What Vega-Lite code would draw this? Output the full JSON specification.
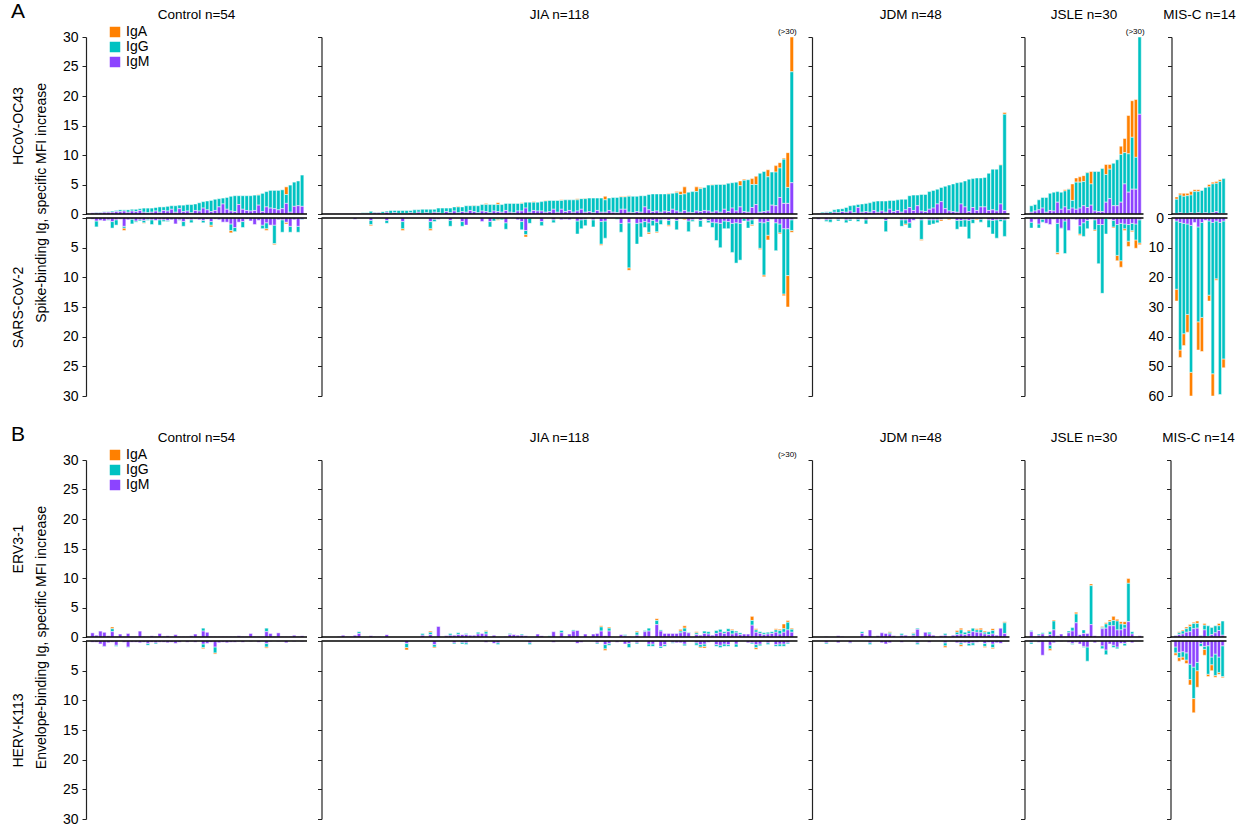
{
"$schema": "https://vega.github.io/schema/vega-lite/v6.json",
"background": "white",
"padding": {"left": 11, "top": 0, "right": 5, "bottom": 5},
"config": {
 "font": "Liberation Sans",
 "view": {"stroke": null},
 "range": {"category": ["#FF8000", "#00C2C2", "#8C44FF", "#FF8000", "#00C2C2", "#8C44FF"]},
 "axis": {"domainColor": "#222222", "tickColor": "#222222", "labelColor": "black", "labelFontSize": 14, "titleFontSize": 14, "titleFontWeight": "normal", "titleColor": "black", "tickSize": 4, "labelPadding": 4, "grid": false, "domainWidth": 1.2},
 "title": {"fontSize": 13.5, "fontWeight": "normal", "color": "black"}
},
"datasets": {
"pA": [
{"g":"C","i":1,"M":0.2,"G":0,"A":0,"c":0.2,"b":0,"a":0},
{"g":"C","i":2,"M":0.2,"G":0.1,"A":0,"c":0.5,"b":1.0,"a":0},
{"g":"C","i":3,"M":0.2,"G":0.1,"A":0,"c":0.4,"b":0,"a":0},
{"g":"C","i":4,"M":0.3,"G":0.1,"A":0,"c":0.5,"b":0,"a":0},
{"g":"C","i":5,"M":0.3,"G":0.1,"A":0,"c":0.3,"b":0.1,"a":0},
{"g":"C","i":6,"M":0.3,"G":0.2,"A":0,"c":0.6,"b":1.1,"a":0},
{"g":"C","i":7,"M":0.4,"G":0.2,"A":0,"c":0.3,"b":0.9,"a":0},
{"g":"C","i":8,"M":0.4,"G":0.3,"A":0,"c":0.2,"b":0,"a":0},
{"g":"C","i":9,"M":0.5,"G":0.2,"A":0,"c":1.4,"b":0.3,"a":0.4},
{"g":"C","i":10,"M":0.3,"G":0.4,"A":0,"c":0.3,"b":0,"a":0},
{"g":"C","i":11,"M":0.5,"G":0.3,"A":0,"c":0.2,"b":0.8,"a":0},
{"g":"C","i":12,"M":0.4,"G":0.4,"A":0,"c":0.5,"b":0.2,"a":0},
{"g":"C","i":13,"M":0.6,"G":0.3,"A":0,"c":0.3,"b":0.2,"a":0},
{"g":"C","i":14,"M":0.3,"G":0.7,"A":0,"c":0.4,"b":0.4,"a":0.1},
{"g":"C","i":15,"M":0.2,"G":0.8,"A":0,"c":0.2,"b":0.2,"a":0},
{"g":"C","i":16,"M":0.3,"G":0.7,"A":0,"c":0.3,"b":0.8,"a":0},
{"g":"C","i":17,"M":0.5,"G":0.6,"A":0,"c":0.4,"b":0,"a":0},
{"g":"C","i":18,"M":0.3,"G":0.9,"A":0,"c":0.3,"b":0.9,"a":0},
{"g":"C","i":19,"M":0.6,"G":0.6,"A":0,"c":0.3,"b":0.3,"a":0},
{"g":"C","i":20,"M":0.5,"G":0.8,"A":0,"c":0.4,"b":0.2,"a":0},
{"g":"C","i":21,"M":0.8,"G":0.6,"A":0,"c":0.3,"b":0,"a":0},
{"g":"C","i":22,"M":0.3,"G":1.1,"A":0,"c":1.0,"b":0,"a":0},
{"g":"C","i":23,"M":0.9,"G":0.6,"A":0,"c":0.3,"b":0.1,"a":0},
{"g":"C","i":24,"M":0.4,"G":1.1,"A":0,"c":0.6,"b":0.8,"a":0},
{"g":"C","i":25,"M":0.5,"G":1.1,"A":0,"c":0.2,"b":0,"a":0},
{"g":"C","i":26,"M":0.2,"G":1.4,"A":0,"c":0.3,"b":0.5,"a":0},
{"g":"C","i":27,"M":0.6,"G":1.1,"A":0,"c":0.2,"b":0,"a":0},
{"g":"C","i":28,"M":0.5,"G":1.4,"A":0,"c":0.3,"b":0,"a":0},
{"g":"C","i":29,"M":1.0,"G":1.1,"A":0,"c":0.4,"b":0.4,"a":0},
{"g":"C","i":30,"M":0.7,"G":1.5,"A":0,"c":0.2,"b":0,"a":0},
{"g":"C","i":31,"M":0.4,"G":1.9,"A":0,"c":0.6,"b":0.6,"a":0.3},
{"g":"C","i":32,"M":0.6,"G":1.9,"A":0,"c":0.2,"b":0,"a":0},
{"g":"C","i":33,"M":1.2,"G":1.4,"A":0,"c":0.3,"b":0,"a":0},
{"g":"C","i":34,"M":1.7,"G":1.0,"A":0,"c":0.7,"b":0,"a":0},
{"g":"C","i":35,"M":0.8,"G":2.0,"A":0,"c":0.7,"b":0,"a":0},
{"g":"C","i":36,"M":0.5,"G":2.5,"A":0,"c":1.0,"b":1.1,"a":0.4},
{"g":"C","i":37,"M":0.4,"G":2.7,"A":0,"c":1.6,"b":0.7,"a":0},
{"g":"C","i":38,"M":1.6,"G":1.5,"A":0,"c":0.7,"b":0,"a":0},
{"g":"C","i":39,"M":0.8,"G":2.3,"A":0,"c":0.6,"b":1.0,"a":0},
{"g":"C","i":40,"M":0.6,"G":2.5,"A":0,"c":0.2,"b":0,"a":0},
{"g":"C","i":41,"M":0.5,"G":2.6,"A":0,"c":0.5,"b":0,"a":0},
{"g":"C","i":42,"M":0.6,"G":2.6,"A":0,"c":1.1,"b":0,"a":0},
{"g":"C","i":43,"M":1.5,"G":1.7,"A":0.1,"c":0.4,"b":0,"a":0},
{"g":"C","i":44,"M":0.4,"G":3.1,"A":0,"c":1.2,"b":0.6,"a":0},
{"g":"C","i":45,"M":1.2,"G":2.6,"A":0,"c":0.8,"b":1.0,"a":0.3},
{"g":"C","i":46,"M":1.0,"G":3.0,"A":0,"c":1.2,"b":0,"a":0},
{"g":"C","i":47,"M":0.9,"G":3.1,"A":0,"c":1.2,"b":3.1,"a":0.2},
{"g":"C","i":48,"M":0.7,"G":3.3,"A":0,"c":0.3,"b":0,"a":0},
{"g":"C","i":49,"M":0.9,"G":3.2,"A":0,"c":0.3,"b":2.1,"a":0},
{"g":"C","i":50,"M":1.8,"G":1.5,"A":1.3,"c":0.7,"b":0,"a":0.3},
{"g":"C","i":51,"M":0.3,"G":4.6,"A":0,"c":1.4,"b":1.0,"a":0},
{"g":"C","i":52,"M":1.3,"G":4.1,"A":0,"c":0.3,"b":0,"a":0},
{"g":"C","i":53,"M":1.4,"G":4.2,"A":0,"c":1.4,"b":1.0,"a":0},
{"g":"C","i":54,"M":1.3,"G":5.3,"A":0,"c":0.2,"b":0.1,"a":0},
{"g":"JIA","i":1,"M":0.05,"G":0,"A":0,"c":0,"b":0,"a":0},
{"g":"JIA","i":2,"M":0.05,"G":0,"A":0,"c":0,"b":0,"a":0},
{"g":"JIA","i":3,"M":0.05,"G":0,"A":0,"c":0,"b":0,"a":0},
{"g":"JIA","i":4,"M":0.05,"G":0,"A":0,"c":0,"b":0,"a":0},
{"g":"JIA","i":5,"M":0.05,"G":0,"A":0,"c":0,"b":0,"a":0},
{"g":"JIA","i":6,"M":0.05,"G":0.05,"A":0,"c":0,"b":0,"a":0},
{"g":"JIA","i":7,"M":0.1,"G":0,"A":0,"c":0,"b":0,"a":0},
{"g":"JIA","i":8,"M":0.1,"G":0.05,"A":0,"c":0.2,"b":0,"a":0},
{"g":"JIA","i":9,"M":0.1,"G":0.05,"A":0,"c":0,"b":0,"a":0},
{"g":"JIA","i":10,"M":0.1,"G":0.1,"A":0,"c":0,"b":0,"a":0},
{"g":"JIA","i":11,"M":0.1,"G":0.1,"A":0,"c":0,"b":0,"a":0},
{"g":"JIA","i":12,"M":0.1,"G":0.35,"A":0,"c":0.4,"b":0.7,"a":0.2},
{"g":"JIA","i":13,"M":0.2,"G":0.1,"A":0,"c":0,"b":0,"a":0},
{"g":"JIA","i":14,"M":0.2,"G":0.1,"A":0,"c":0,"b":0,"a":0},
{"g":"JIA","i":15,"M":0.1,"G":0.3,"A":0,"c":0,"b":0,"a":0},
{"g":"JIA","i":16,"M":0.3,"G":0.2,"A":0,"c":0.4,"b":0.5,"a":0},
{"g":"JIA","i":17,"M":0.1,"G":0.5,"A":0,"c":0,"b":0,"a":0},
{"g":"JIA","i":18,"M":0.2,"G":0.4,"A":0,"c":0,"b":0,"a":0},
{"g":"JIA","i":19,"M":0.1,"G":0.5,"A":0,"c":0,"b":0,"a":0},
{"g":"JIA","i":20,"M":0.1,"G":0.5,"A":0,"c":0.6,"b":1.2,"a":0.3},
{"g":"JIA","i":21,"M":0.1,"G":0.5,"A":0,"c":0,"b":0,"a":0},
{"g":"JIA","i":22,"M":0.2,"G":0.4,"A":0,"c":0,"b":0,"a":0},
{"g":"JIA","i":23,"M":0.1,"G":0.6,"A":0,"c":0,"b":0,"a":0},
{"g":"JIA","i":24,"M":0.3,"G":0.4,"A":0,"c":0,"b":0,"a":0},
{"g":"JIA","i":25,"M":0.1,"G":0.7,"A":0,"c":0,"b":0,"a":0},
{"g":"JIA","i":26,"M":0.2,"G":0.6,"A":0,"c":0,"b":0,"a":0},
{"g":"JIA","i":27,"M":0.1,"G":0.7,"A":0,"c":0.6,"b":1.2,"a":0.3},
{"g":"JIA","i":28,"M":0.3,"G":0.5,"A":0,"c":0.2,"b":0.4,"a":0},
{"g":"JIA","i":29,"M":0.2,"G":0.8,"A":0,"c":0.2,"b":0,"a":0},
{"g":"JIA","i":30,"M":0.1,"G":0.9,"A":0,"c":0,"b":0,"a":0},
{"g":"JIA","i":31,"M":0.4,"G":0.6,"A":0,"c":0,"b":0,"a":0},
{"g":"JIA","i":32,"M":0.2,"G":0.8,"A":0,"c":0.4,"b":1.0,"a":0},
{"g":"JIA","i":33,"M":0.5,"G":0.7,"A":0,"c":0,"b":0,"a":0},
{"g":"JIA","i":34,"M":0.2,"G":1.0,"A":0.1,"c":0,"b":0,"a":0},
{"g":"JIA","i":35,"M":0.4,"G":0.8,"A":0,"c":0.6,"b":0.8,"a":0},
{"g":"JIA","i":36,"M":0.3,"G":1.1,"A":0,"c":1.2,"b":0,"a":0},
{"g":"JIA","i":37,"M":0.6,"G":0.8,"A":0,"c":0,"b":0,"a":0},
{"g":"JIA","i":38,"M":0.4,"G":1.0,"A":0.1,"c":0,"b":0,"a":0},
{"g":"JIA","i":39,"M":0.2,"G":1.2,"A":0,"c":0,"b":0,"a":0},
{"g":"JIA","i":40,"M":0.5,"G":1.1,"A":0,"c":0.6,"b":0,"a":0},
{"g":"JIA","i":41,"M":0.4,"G":1.2,"A":0.2,"c":0,"b":0,"a":0},
{"g":"JIA","i":42,"M":0.2,"G":1.4,"A":0,"c":0.6,"b":0.9,"a":0},
{"g":"JIA","i":43,"M":0.5,"G":1.1,"A":0,"c":0,"b":0.5,"a":0},
{"g":"JIA","i":44,"M":0.4,"G":1.2,"A":0.3,"c":0,"b":0.2,"a":0.2},
{"g":"JIA","i":45,"M":0.3,"G":1.3,"A":0,"c":0,"b":0.3,"a":0},
{"g":"JIA","i":46,"M":0.6,"G":1.2,"A":0,"c":0.8,"b":1.1,"a":0},
{"g":"JIA","i":47,"M":0.3,"G":1.5,"A":0,"c":0,"b":0,"a":0},
{"g":"JIA","i":48,"M":0.2,"G":1.6,"A":0,"c":0,"b":0,"a":0},
{"g":"JIA","i":49,"M":0.5,"G":1.3,"A":0,"c":0.3,"b":0,"a":0},
{"g":"JIA","i":50,"M":0.5,"G":1.3,"A":0.1,"c":0.6,"b":1.4,"a":0},
{"g":"JIA","i":51,"M":1.0,"G":1.0,"A":0,"c":2.1,"b":0.7,"a":0.4},
{"g":"JIA","i":52,"M":0.3,"G":1.7,"A":0,"c":0,"b":0.9,"a":0},
{"g":"JIA","i":53,"M":0.6,"G":1.4,"A":0.1,"c":0,"b":0,"a":0},
{"g":"JIA","i":54,"M":0.5,"G":1.5,"A":0,"c":0,"b":0,"a":0},
{"g":"JIA","i":55,"M":0.5,"G":1.6,"A":0,"c":0.6,"b":0.7,"a":0},
{"g":"JIA","i":56,"M":0.3,"G":1.9,"A":0.1,"c":0,"b":0,"a":0},
{"g":"JIA","i":57,"M":0.4,"G":1.9,"A":0,"c":0,"b":0,"a":0},
{"g":"JIA","i":58,"M":0.8,"G":1.5,"A":0,"c":0.3,"b":0.5,"a":0},
{"g":"JIA","i":59,"M":0.3,"G":2.0,"A":0,"c":0,"b":0,"a":0},
{"g":"JIA","i":60,"M":0.8,"G":1.5,"A":0.1,"c":0.3,"b":0,"a":0},
{"g":"JIA","i":61,"M":0.4,"G":2.0,"A":0,"c":0.2,"b":0,"a":0},
{"g":"JIA","i":62,"M":0.6,"G":1.8,"A":0,"c":0.3,"b":0,"a":0},
{"g":"JIA","i":63,"M":0.3,"G":2.1,"A":0,"c":0,"b":0,"a":0},
{"g":"JIA","i":64,"M":0.5,"G":1.9,"A":0.2,"c":0.5,"b":2.2,"a":0},
{"g":"JIA","i":65,"M":0.8,"G":1.8,"A":0,"c":0.3,"b":1.5,"a":0},
{"g":"JIA","i":66,"M":0.3,"G":2.3,"A":0.1,"c":0.2,"b":1.1,"a":0},
{"g":"JIA","i":67,"M":0.4,"G":2.3,"A":0,"c":0,"b":0,"a":0},
{"g":"JIA","i":68,"M":0.2,"G":2.5,"A":0,"c":0.3,"b":1.2,"a":0},
{"g":"JIA","i":69,"M":0.6,"G":2.1,"A":0,"c":0,"b":0,"a":0},
{"g":"JIA","i":70,"M":0.3,"G":2.4,"A":0,"c":0.6,"b":3.8,"a":0.2},
{"g":"JIA","i":71,"M":0.3,"G":2.1,"A":0.6,"c":0.5,"b":2.9,"a":0},
{"g":"JIA","i":72,"M":0.6,"G":2.1,"A":0,"c":0,"b":0,"a":0},
{"g":"JIA","i":73,"M":0.3,"G":2.5,"A":0,"c":0,"b":0,"a":0},
{"g":"JIA","i":74,"M":0.2,"G":2.6,"A":0,"c":0,"b":0.2,"a":0},
{"g":"JIA","i":75,"M":0.8,"G":2.1,"A":0.1,"c":0.9,"b":1.5,"a":0},
{"g":"JIA","i":76,"M":0.8,"G":2.1,"A":0.1,"c":0,"b":0,"a":0},
{"g":"JIA","i":77,"M":0.3,"G":2.7,"A":0.1,"c":0.8,"b":7.6,"a":0.4},
{"g":"JIA","i":78,"M":0.2,"G":2.8,"A":0,"c":0,"b":0,"a":0},
{"g":"JIA","i":79,"M":0.4,"G":2.6,"A":0,"c":0.9,"b":3.5,"a":0},
{"g":"JIA","i":80,"M":0.3,"G":2.8,"A":0,"c":0.8,"b":2.4,"a":0},
{"g":"JIA","i":81,"M":1.2,"G":1.9,"A":0,"c":0.6,"b":1.0,"a":0},
{"g":"JIA","i":82,"M":0.7,"G":2.6,"A":0,"c":0.8,"b":1.6,"a":0.3},
{"g":"JIA","i":83,"M":0.4,"G":3.0,"A":0,"c":0.4,"b":0.9,"a":0},
{"g":"JIA","i":84,"M":0.5,"G":2.9,"A":0,"c":0.7,"b":1.6,"a":0.2},
{"g":"JIA","i":85,"M":0.3,"G":3.1,"A":0,"c":0.3,"b":0.8,"a":0},
{"g":"JIA","i":86,"M":0.5,"G":2.9,"A":0,"c":0.2,"b":0,"a":0},
{"g":"JIA","i":87,"M":0.4,"G":3.0,"A":0.1,"c":0.4,"b":0.8,"a":0.2},
{"g":"JIA","i":88,"M":0.8,"G":2.7,"A":0,"c":0,"b":0,"a":0},
{"g":"JIA","i":89,"M":0.5,"G":3.1,"A":0.2,"c":0.4,"b":1.6,"a":0},
{"g":"JIA","i":90,"M":0.3,"G":3.0,"A":0.5,"c":0,"b":0,"a":0},
{"g":"JIA","i":91,"M":0.6,"G":2.8,"A":1.2,"c":0,"b":0,"a":0.3},
{"g":"JIA","i":92,"M":0.3,"G":3.4,"A":0,"c":0.5,"b":1.8,"a":0},
{"g":"JIA","i":93,"M":0.2,"G":3.6,"A":0,"c":0.3,"b":0.3,"a":0},
{"g":"JIA","i":94,"M":0.5,"G":3.3,"A":0.8,"c":0,"b":0,"a":0},
{"g":"JIA","i":95,"M":0.4,"G":3.9,"A":0.2,"c":0.4,"b":1.1,"a":0},
{"g":"JIA","i":96,"M":0.6,"G":3.9,"A":0,"c":0,"b":0,"a":0},
{"g":"JIA","i":97,"M":0.5,"G":4.4,"A":0,"c":0.4,"b":0.4,"a":0},
{"g":"JIA","i":98,"M":0.3,"G":4.6,"A":0.1,"c":0.7,"b":0.9,"a":0},
{"g":"JIA","i":99,"M":0.5,"G":4.5,"A":0,"c":0.8,"b":3.0,"a":0},
{"g":"JIA","i":100,"M":0.3,"G":4.7,"A":0,"c":0.9,"b":4.1,"a":0},
{"g":"JIA","i":101,"M":0.8,"G":4.2,"A":0.1,"c":0.5,"b":1.3,"a":0},
{"g":"JIA","i":102,"M":0.4,"G":4.8,"A":0,"c":0.6,"b":1.2,"a":0},
{"g":"JIA","i":103,"M":1.0,"G":4.3,"A":0,"c":0.9,"b":4.9,"a":0},
{"g":"JIA","i":104,"M":0.5,"G":4.9,"A":0,"c":0.8,"b":6.8,"a":0},
{"g":"JIA","i":105,"M":1.2,"G":3.6,"A":0.8,"c":0.9,"b":6.2,"a":0},
{"g":"JIA","i":106,"M":0.4,"G":5.3,"A":0.2,"c":0,"b":0.5,"a":0},
{"g":"JIA","i":107,"M":0.3,"G":5.5,"A":0,"c":0.5,"b":1.2,"a":0},
{"g":"JIA","i":108,"M":1.1,"G":3.9,"A":1.0,"c":0.3,"b":0.8,"a":0.2},
{"g":"JIA","i":109,"M":1.6,"G":3.4,"A":1.4,"c":0,"b":0,"a":0},
{"g":"JIA","i":110,"M":0.3,"G":6.6,"A":0,"c":0.7,"b":4.4,"a":0.2},
{"g":"JIA","i":111,"M":0.4,"G":6.8,"A":0,"c":0.8,"b":8.8,"a":0.3},
{"g":"JIA","i":112,"M":0.5,"G":5.8,"A":1.2,"c":0.6,"b":2.3,"a":0.8},
{"g":"JIA","i":113,"M":1.5,"G":5.6,"A":0,"c":0.2,"b":0,"a":0},
{"g":"JIA","i":114,"M":1.4,"G":5.7,"A":1.1,"c":0.8,"b":4.7,"a":0},
{"g":"JIA","i":115,"M":2.8,"G":5.0,"A":0.9,"c":1.0,"b":1.5,"a":0.2},
{"g":"JIA","i":116,"M":1.8,"G":7.5,"A":0.2,"c":1.8,"b":11.0,"a":0.3},
{"g":"JIA","i":117,"M":1.8,"G":2.7,"A":5.9,"c":1.8,"b":7.9,"a":5.3},
{"g":"JIA","i":118,"M":5.3,"G":18.8,"A":5.9,"c":0.3,"b":1.8,"a":0.3},
{"g":"JDM","i":1,"M":0.1,"G":0,"A":0,"c":0.2,"b":0,"a":0},
{"g":"JDM","i":2,"M":0.1,"G":0.2,"A":0,"c":0,"b":0,"a":0},
{"g":"JDM","i":3,"M":0.2,"G":0.2,"A":0,"c":0.3,"b":0.3,"a":0},
{"g":"JDM","i":4,"M":0.1,"G":0.3,"A":0,"c":0.2,"b":0.5,"a":0},
{"g":"JDM","i":5,"M":0.3,"G":0.4,"A":0,"c":0,"b":0,"a":0},
{"g":"JDM","i":6,"M":0.2,"G":0.65,"A":0,"c":0.2,"b":0.3,"a":0},
{"g":"JDM","i":7,"M":0.4,"G":0.5,"A":0,"c":0,"b":0,"a":0},
{"g":"JDM","i":8,"M":0.3,"G":0.8,"A":0,"c":0.3,"b":0.5,"a":0},
{"g":"JDM","i":9,"M":0.5,"G":0.9,"A":0,"c":0.2,"b":0.3,"a":0},
{"g":"JDM","i":10,"M":0.2,"G":1.3,"A":0,"c":0,"b":0,"a":0},
{"g":"JDM","i":11,"M":1.1,"G":0.5,"A":0,"c":0.2,"b":0.4,"a":0},
{"g":"JDM","i":12,"M":0.3,"G":1.4,"A":0,"c":0,"b":0,"a":0},
{"g":"JDM","i":13,"M":0.4,"G":1.4,"A":0,"c":0.3,"b":0.7,"a":0},
{"g":"JDM","i":14,"M":0.3,"G":1.6,"A":0,"c":0,"b":0,"a":0},
{"g":"JDM","i":15,"M":0.6,"G":1.5,"A":0,"c":0,"b":0,"a":0},
{"g":"JDM","i":16,"M":0.3,"G":1.9,"A":0,"c":0,"b":0,"a":0},
{"g":"JDM","i":17,"M":0.5,"G":1.7,"A":0,"c":0,"b":0,"a":0},
{"g":"JDM","i":18,"M":0.3,"G":1.9,"A":0,"c":0.4,"b":1.9,"a":0},
{"g":"JDM","i":19,"M":0.8,"G":1.5,"A":0,"c":0,"b":0,"a":0},
{"g":"JDM","i":20,"M":0.4,"G":1.9,"A":0,"c":0,"b":0,"a":0},
{"g":"JDM","i":21,"M":0.6,"G":1.8,"A":0,"c":0,"b":0,"a":0},
{"g":"JDM","i":22,"M":0.3,"G":2.2,"A":0,"c":0.3,"b":1.1,"a":0},
{"g":"JDM","i":23,"M":0.7,"G":1.8,"A":0,"c":0.3,"b":0.7,"a":0.2},
{"g":"JDM","i":24,"M":1.1,"G":2.0,"A":0,"c":0.8,"b":0.9,"a":0},
{"g":"JDM","i":25,"M":0.6,"G":2.6,"A":0,"c":0.4,"b":0,"a":0},
{"g":"JDM","i":26,"M":1.4,"G":1.8,"A":0,"c":0,"b":0,"a":0},
{"g":"JDM","i":27,"M":0.5,"G":2.8,"A":0,"c":0.3,"b":3.3,"a":0.2},
{"g":"JDM","i":28,"M":0.4,"G":2.9,"A":0,"c":0,"b":0,"a":0},
{"g":"JDM","i":29,"M":0.8,"G":3.0,"A":0,"c":0.3,"b":0.9,"a":0},
{"g":"JDM","i":30,"M":1.0,"G":3.0,"A":0,"c":0.3,"b":0.7,"a":0},
{"g":"JDM","i":31,"M":1.7,"G":2.5,"A":0,"c":0.3,"b":0.5,"a":0},
{"g":"JDM","i":32,"M":2.1,"G":2.4,"A":0,"c":0.2,"b":0,"a":0.3},
{"g":"JDM","i":33,"M":0.9,"G":3.8,"A":0,"c":0,"b":0,"a":0},
{"g":"JDM","i":34,"M":0.5,"G":4.4,"A":0,"c":0.1,"b":0,"a":0.2},
{"g":"JDM","i":35,"M":0.4,"G":4.7,"A":0,"c":0,"b":0,"a":0},
{"g":"JDM","i":36,"M":0.3,"G":5.0,"A":0,"c":0.4,"b":1.5,"a":0},
{"g":"JDM","i":37,"M":1.7,"G":3.7,"A":0,"c":0.4,"b":1.1,"a":0},
{"g":"JDM","i":38,"M":1.2,"G":4.4,"A":0,"c":0.3,"b":1.2,"a":0},
{"g":"JDM","i":39,"M":0.4,"G":5.5,"A":0,"c":0.4,"b":3.1,"a":0},
{"g":"JDM","i":40,"M":1.1,"G":4.9,"A":0,"c":0.2,"b":0.7,"a":0},
{"g":"JDM","i":41,"M":0.6,"G":5.5,"A":0,"c":0.1,"b":0,"a":0.2},
{"g":"JDM","i":42,"M":1.2,"G":4.9,"A":0,"c":0.2,"b":0.5,"a":0},
{"g":"JDM","i":43,"M":1.2,"G":5.0,"A":0,"c":0,"b":0,"a":0},
{"g":"JDM","i":44,"M":0.6,"G":6.3,"A":0,"c":0.3,"b":1.3,"a":0},
{"g":"JDM","i":45,"M":0.7,"G":6.9,"A":0,"c":0.4,"b":2.3,"a":0},
{"g":"JDM","i":46,"M":0.5,"G":7.1,"A":0,"c":0.3,"b":3.1,"a":0},
{"g":"JDM","i":47,"M":1.7,"G":6.6,"A":0.1,"c":0.2,"b":0.4,"a":0},
{"g":"JDM","i":48,"M":0.6,"G":16.3,"A":0.3,"c":0.3,"b":2.8,"a":0},
{"g":"JSLE","i":1,"M":0.3,"G":1.1,"A":0,"c":0.7,"b":1.0,"a":0},
{"g":"JSLE","i":2,"M":0.5,"G":1.1,"A":0,"c":0.2,"b":0,"a":0},
{"g":"JSLE","i":3,"M":0.7,"G":1.7,"A":0,"c":1.0,"b":0.7,"a":0},
{"g":"JSLE","i":4,"M":1.0,"G":1.8,"A":0,"c":0.2,"b":0.5,"a":0},
{"g":"JSLE","i":5,"M":0.3,"G":2.5,"A":0,"c":0.9,"b":0,"a":0},
{"g":"JSLE","i":6,"M":0.6,"G":2.9,"A":0,"c":1.1,"b":0,"a":0},
{"g":"JSLE","i":7,"M":0.5,"G":3.2,"A":0,"c":0.2,"b":0,"a":0},
{"g":"JSLE","i":8,"M":2.0,"G":1.8,"A":0,"c":0.9,"b":4.9,"a":0.3},
{"g":"JSLE","i":9,"M":0.8,"G":2.9,"A":0,"c":1.7,"b":0.1,"a":0},
{"g":"JSLE","i":10,"M":1.2,"G":2.7,"A":0.2,"c":0.5,"b":5.5,"a":0},
{"g":"JSLE","i":11,"M":0.7,"G":3.5,"A":0.1,"c":2.1,"b":0,"a":0},
{"g":"JSLE","i":12,"M":1.0,"G":1.3,"A":2.8,"c":0.2,"b":0,"a":0},
{"g":"JSLE","i":13,"M":0.8,"G":4.6,"A":0.7,"c":0.3,"b":0,"a":0},
{"g":"JSLE","i":14,"M":1.0,"G":4.4,"A":0.9,"c":1.3,"b":1.4,"a":0.2},
{"g":"JSLE","i":15,"M":1.4,"G":4.1,"A":1.0,"c":0.8,"b":2.3,"a":0},
{"g":"JSLE","i":16,"M":1.1,"G":5.9,"A":0.1,"c":0.4,"b":1.4,"a":0},
{"g":"JSLE","i":17,"M":1.5,"G":3.6,"A":2.1,"c":0.2,"b":0,"a":0},
{"g":"JSLE","i":18,"M":0.5,"G":6.7,"A":0,"c":0.3,"b":1.7,"a":0.2},
{"g":"JSLE","i":19,"M":0.4,"G":6.8,"A":0,"c":1.1,"b":6.6,"a":0},
{"g":"JSLE","i":20,"M":0.4,"G":7.3,"A":0,"c":1.1,"b":11.6,"a":0},
{"g":"JSLE","i":21,"M":2.0,"G":4.7,"A":1.7,"c":0,"b":2.7,"a":0},
{"g":"JSLE","i":22,"M":2.6,"G":5.0,"A":0.8,"c":0.2,"b":0,"a":0},
{"g":"JSLE","i":23,"M":1.4,"G":7.2,"A":0,"c":0.4,"b":1.1,"a":0.2},
{"g":"JSLE","i":24,"M":1.4,"G":7.8,"A":0,"c":1.1,"b":5.2,"a":0.9},
{"g":"JSLE","i":25,"M":2.0,"G":8.1,"A":1.4,"c":0.9,"b":6.3,"a":1.1},
{"g":"JSLE","i":26,"M":5.1,"G":5.3,"A":2.4,"c":1.0,"b":0.8,"a":0.3},
{"g":"JSLE","i":27,"M":3.7,"G":6.5,"A":6.5,"c":1.1,"b":2.8,"a":0.9},
{"g":"JSLE","i":28,"M":4.2,"G":8.8,"A":6.2,"c":0.9,"b":1.2,"a":0.2},
{"g":"JSLE","i":29,"M":4.2,"G":5.4,"A":9.8,"c":1.0,"b":2.7,"a":1.4},
{"g":"JSLE","i":30,"M":16.9,"G":13.1,"A":0,"c":0.3,"b":3.9,"a":0.3},
{"g":"MISC","i":1,"M":0.1,"G":2.4,"A":0.4,"c":1.0,"b":23.0,"a":4.0},
{"g":"MISC","i":2,"M":0.2,"G":3.0,"A":0.3,"c":1.5,"b":43.0,"a":2.5},
{"g":"MISC","i":3,"M":0.1,"G":2.9,"A":0.5,"c":1.8,"b":37.2,"a":4.0},
{"g":"MISC","i":4,"M":0.1,"G":3.0,"A":0.4,"c":2.0,"b":30.5,"a":6.0},
{"g":"MISC","i":5,"M":0.2,"G":3.0,"A":0.6,"c":2.5,"b":49.5,"a":8.0},
{"g":"MISC","i":6,"M":0.1,"G":3.7,"A":0.3,"c":1.5,"b":0,"a":0},
{"g":"MISC","i":7,"M":0.2,"G":3.6,"A":0.3,"c":3.0,"b":32.0,"a":9.5},
{"g":"MISC","i":8,"M":0.1,"G":3.9,"A":0,"c":1.5,"b":32.0,"a":11.5},
{"g":"MISC","i":9,"M":0.2,"G":4.3,"A":0,"c":0.8,"b":0,"a":0},
{"g":"MISC","i":10,"M":0.1,"G":4.5,"A":0.4,"c":1.0,"b":25.0,"a":2.0},
{"g":"MISC","i":11,"M":0.2,"G":4.9,"A":0.3,"c":1.5,"b":51.0,"a":7.5},
{"g":"MISC","i":12,"M":0.4,"G":4.8,"A":0.3,"c":1.0,"b":19.5,"a":0.5},
{"g":"MISC","i":13,"M":0.1,"G":5.4,"A":0.3,"c":1.5,"b":58.0,"a":0},
{"g":"MISC","i":14,"M":0.1,"G":5.9,"A":0,"c":1.0,"b":46.5,"a":3.0}
],
"pB": [
{"g":"C","i":1,"M":0.7,"G":0,"A":0,"c":0.2,"b":0,"a":0},
{"g":"C","i":2,"M":0.3,"G":0,"A":0,"c":0.2,"b":0,"a":0},
{"g":"C","i":3,"M":1.0,"G":0,"A":0,"c":0.5,"b":0,"a":0},
{"g":"C","i":4,"M":0.8,"G":0,"A":0,"c":0.9,"b":0.1,"a":0},
{"g":"C","i":5,"M":0.2,"G":0,"A":0,"c":0.3,"b":0,"a":0},
{"g":"C","i":6,"M":0.9,"G":0.5,"A":0.3,"c":0.2,"b":0,"a":0},
{"g":"C","i":7,"M":0.1,"G":0,"A":0,"c":0.7,"b":0.2,"a":0},
{"g":"C","i":8,"M":0.5,"G":0,"A":0,"c":0,"b":0,"a":0},
{"g":"C","i":9,"M":0.1,"G":0,"A":0,"c":0.2,"b":0,"a":0},
{"g":"C","i":10,"M":0.6,"G":0,"A":0,"c":1.0,"b":0.1,"a":0},
{"g":"C","i":11,"M":0.1,"G":0,"A":0,"c":0.2,"b":0,"a":0},
{"g":"C","i":12,"M":0.1,"G":0,"A":0,"c":0.2,"b":0,"a":0},
{"g":"C","i":13,"M":1.0,"G":0,"A":0,"c":0.3,"b":0,"a":0},
{"g":"C","i":14,"M":0.1,"G":0,"A":0,"c":0.2,"b":0,"a":0},
{"g":"C","i":15,"M":0.1,"G":0,"A":0,"c":0.4,"b":0.3,"a":0},
{"g":"C","i":16,"M":0.2,"G":0,"A":0,"c":0.2,"b":0,"a":0},
{"g":"C","i":17,"M":0.1,"G":0,"A":0,"c":0.3,"b":0.2,"a":0},
{"g":"C","i":18,"M":0.6,"G":0,"A":0,"c":0.2,"b":0,"a":0},
{"g":"C","i":19,"M":0.1,"G":0,"A":0,"c":0.2,"b":0,"a":0},
{"g":"C","i":20,"M":0.2,"G":0,"A":0,"c":0.3,"b":0,"a":0},
{"g":"C","i":21,"M":0.1,"G":0,"A":0,"c":0.2,"b":0,"a":0},
{"g":"C","i":22,"M":0.4,"G":0,"A":0,"c":0.4,"b":0,"a":0},
{"g":"C","i":23,"M":0.1,"G":0,"A":0,"c":0.2,"b":0,"a":0},
{"g":"C","i":24,"M":0.1,"G":0,"A":0,"c":0,"b":0,"a":0},
{"g":"C","i":25,"M":0.1,"G":0,"A":0,"c":0.2,"b":0,"a":0},
{"g":"C","i":26,"M":0.2,"G":0,"A":0,"c":0.1,"b":0,"a":0},
{"g":"C","i":27,"M":0.5,"G":0,"A":0,"c":0.2,"b":0,"a":0},
{"g":"C","i":28,"M":0.1,"G":0,"A":0,"c":0,"b":0,"a":0},
{"g":"C","i":29,"M":1.0,"G":0.5,"A":0,"c":0.5,"b":0.6,"a":0.2},
{"g":"C","i":30,"M":0.8,"G":0,"A":0,"c":0.4,"b":0,"a":0},
{"g":"C","i":31,"M":0.1,"G":0,"A":0,"c":0.2,"b":0,"a":0},
{"g":"C","i":32,"M":0.1,"G":0,"A":0,"c":1.0,"b":1.0,"a":0.2},
{"g":"C","i":33,"M":0.1,"G":0,"A":0,"c":0.3,"b":0,"a":0},
{"g":"C","i":34,"M":0.1,"G":0,"A":0,"c":0.2,"b":0,"a":0},
{"g":"C","i":35,"M":0.1,"G":0,"A":0,"c":0.3,"b":0,"a":0},
{"g":"C","i":36,"M":0.1,"G":0,"A":0,"c":0.2,"b":0,"a":0},
{"g":"C","i":37,"M":0.1,"G":0,"A":0,"c":0.2,"b":0,"a":0},
{"g":"C","i":38,"M":0.2,"G":0,"A":0,"c":0.1,"b":0,"a":0},
{"g":"C","i":39,"M":0.1,"G":0,"A":0,"c":0.2,"b":0,"a":0},
{"g":"C","i":40,"M":0.1,"G":0,"A":0,"c":0,"b":0,"a":0},
{"g":"C","i":41,"M":0.6,"G":0,"A":0,"c":0.1,"b":0,"a":0},
{"g":"C","i":42,"M":0.1,"G":0,"A":0,"c":0,"b":0,"a":0},
{"g":"C","i":43,"M":0.1,"G":0,"A":0,"c":0.2,"b":0,"a":0},
{"g":"C","i":44,"M":0.1,"G":0,"A":0,"c":0,"b":0,"a":0},
{"g":"C","i":45,"M":0.9,"G":0.6,"A":0,"c":0.4,"b":0.6,"a":0.2},
{"g":"C","i":46,"M":0.6,"G":0,"A":0,"c":0.1,"b":0,"a":0},
{"g":"C","i":47,"M":0.1,"G":0,"A":0,"c":0,"b":0,"a":0},
{"g":"C","i":48,"M":0.7,"G":0,"A":0,"c":0.1,"b":0,"a":0},
{"g":"C","i":49,"M":0.1,"G":0,"A":0,"c":0,"b":0,"a":0},
{"g":"C","i":50,"M":0.1,"G":0,"A":0,"c":0.3,"b":0,"a":0},
{"g":"C","i":51,"M":0.1,"G":0,"A":0,"c":0,"b":0,"a":0},
{"g":"C","i":52,"M":0.3,"G":0,"A":0,"c":0.1,"b":0,"a":0},
{"g":"C","i":53,"M":0.1,"G":0,"A":0,"c":0,"b":0,"a":0},
{"g":"C","i":54,"M":0.2,"G":0,"A":0,"c":0.1,"b":0,"a":0},
{"g":"JIA","i":1,"M":0,"G":0,"A":0,"c":0,"b":0,"a":0},
{"g":"JIA","i":2,"M":0,"G":0,"A":0,"c":0,"b":0,"a":0},
{"g":"JIA","i":3,"M":0,"G":0,"A":0,"c":0,"b":0,"a":0},
{"g":"JIA","i":4,"M":0.1,"G":0,"A":0,"c":0,"b":0,"a":0},
{"g":"JIA","i":5,"M":0.3,"G":0,"A":0,"c":0,"b":0,"a":0},
{"g":"JIA","i":6,"M":0.1,"G":0,"A":0,"c":0,"b":0,"a":0},
{"g":"JIA","i":7,"M":0.1,"G":0,"A":0,"c":0,"b":0,"a":0},
{"g":"JIA","i":8,"M":0.3,"G":0,"A":0,"c":0,"b":0,"a":0},
{"g":"JIA","i":9,"M":0.6,"G":0.3,"A":0,"c":0,"b":0,"a":0},
{"g":"JIA","i":10,"M":0,"G":0,"A":0,"c":0,"b":0,"a":0},
{"g":"JIA","i":11,"M":0,"G":0,"A":0,"c":0,"b":0,"a":0},
{"g":"JIA","i":12,"M":0.2,"G":0,"A":0,"c":0,"b":0,"a":0},
{"g":"JIA","i":13,"M":0.1,"G":0,"A":0,"c":0,"b":0,"a":0},
{"g":"JIA","i":14,"M":0.1,"G":0,"A":0,"c":0,"b":0,"a":0},
{"g":"JIA","i":15,"M":0,"G":0,"A":0,"c":0,"b":0,"a":0},
{"g":"JIA","i":16,"M":0.4,"G":0,"A":0,"c":0,"b":0,"a":0},
{"g":"JIA","i":17,"M":0,"G":0,"A":0,"c":0,"b":0,"a":0},
{"g":"JIA","i":18,"M":0,"G":0,"A":0,"c":0,"b":0,"a":0},
{"g":"JIA","i":19,"M":0,"G":0,"A":0,"c":0,"b":0,"a":0},
{"g":"JIA","i":20,"M":0,"G":0,"A":0,"c":0,"b":0,"a":0},
{"g":"JIA","i":21,"M":0,"G":0,"A":0,"c":0.4,"b":0.7,"a":0.4},
{"g":"JIA","i":22,"M":0,"G":0,"A":0,"c":0,"b":0,"a":0},
{"g":"JIA","i":23,"M":0,"G":0,"A":0,"c":0,"b":0,"a":0},
{"g":"JIA","i":24,"M":0,"G":0,"A":0,"c":0,"b":0,"a":0},
{"g":"JIA","i":25,"M":0.3,"G":0.3,"A":0,"c":0,"b":0,"a":0},
{"g":"JIA","i":26,"M":0,"G":0,"A":0,"c":0,"b":0,"a":0},
{"g":"JIA","i":27,"M":0.4,"G":0.4,"A":0.2,"c":0,"b":0,"a":0},
{"g":"JIA","i":28,"M":0,"G":0,"A":0,"c":0.6,"b":0.4,"a":0.2},
{"g":"JIA","i":29,"M":1.8,"G":0,"A":0,"c":0,"b":0,"a":0},
{"g":"JIA","i":30,"M":0,"G":0,"A":0,"c":0,"b":0,"a":0},
{"g":"JIA","i":31,"M":0.2,"G":0,"A":0,"c":0,"b":0,"a":0},
{"g":"JIA","i":32,"M":0.3,"G":0.3,"A":0,"c":0,"b":0,"a":0},
{"g":"JIA","i":33,"M":0.3,"G":0,"A":0,"c":0.3,"b":0.2,"a":0},
{"g":"JIA","i":34,"M":0.4,"G":0.3,"A":0,"c":0,"b":0,"a":0},
{"g":"JIA","i":35,"M":0.4,"G":0,"A":0,"c":0.2,"b":0.3,"a":0},
{"g":"JIA","i":36,"M":0.4,"G":0.2,"A":0,"c":0.3,"b":0.3,"a":0},
{"g":"JIA","i":37,"M":0.3,"G":0,"A":0,"c":0,"b":0,"a":0},
{"g":"JIA","i":38,"M":0.3,"G":0,"A":0,"c":0,"b":0,"a":0},
{"g":"JIA","i":39,"M":0.5,"G":0.3,"A":0,"c":0,"b":0,"a":0},
{"g":"JIA","i":40,"M":0.6,"G":0,"A":0,"c":0,"b":0,"a":0},
{"g":"JIA","i":41,"M":0.5,"G":0.4,"A":0.2,"c":0.2,"b":0,"a":0},
{"g":"JIA","i":42,"M":0,"G":0,"A":0,"c":0,"b":0,"a":0},
{"g":"JIA","i":43,"M":0.3,"G":0,"A":0,"c":0.4,"b":0,"a":0},
{"g":"JIA","i":44,"M":0,"G":0,"A":0,"c":0.3,"b":0.3,"a":0},
{"g":"JIA","i":45,"M":0,"G":0,"A":0,"c":0,"b":0,"a":0},
{"g":"JIA","i":46,"M":0.1,"G":0,"A":0,"c":0,"b":0,"a":0},
{"g":"JIA","i":47,"M":0.4,"G":0.2,"A":0,"c":0,"b":0,"a":0},
{"g":"JIA","i":48,"M":0.4,"G":0,"A":0,"c":0,"b":0,"a":0},
{"g":"JIA","i":49,"M":0.3,"G":0,"A":0,"c":0,"b":0,"a":0},
{"g":"JIA","i":50,"M":0.3,"G":0.2,"A":0,"c":0,"b":0,"a":0},
{"g":"JIA","i":51,"M":0.2,"G":0,"A":0,"c":0,"b":0,"a":0},
{"g":"JIA","i":52,"M":0,"G":0,"A":0,"c":0.3,"b":0.3,"a":0},
{"g":"JIA","i":53,"M":0,"G":0,"A":0,"c":0,"b":0,"a":0},
{"g":"JIA","i":54,"M":0.5,"G":0,"A":0,"c":0,"b":0,"a":0},
{"g":"JIA","i":55,"M":0.2,"G":0,"A":0,"c":0,"b":0,"a":0},
{"g":"JIA","i":56,"M":0,"G":0,"A":0,"c":0,"b":0,"a":0},
{"g":"JIA","i":57,"M":0,"G":0.2,"A":0,"c":0,"b":0,"a":0},
{"g":"JIA","i":58,"M":0.9,"G":0,"A":0,"c":0.2,"b":0,"a":0},
{"g":"JIA","i":59,"M":0,"G":0,"A":0,"c":0,"b":0,"a":0},
{"g":"JIA","i":60,"M":0.7,"G":0.4,"A":0,"c":0,"b":0,"a":0},
{"g":"JIA","i":61,"M":0,"G":0,"A":0,"c":0,"b":0,"a":0},
{"g":"JIA","i":62,"M":0.5,"G":0,"A":0,"c":0,"b":0,"a":0},
{"g":"JIA","i":63,"M":1.0,"G":0.2,"A":0,"c":0,"b":0,"a":0},
{"g":"JIA","i":64,"M":1.1,"G":0,"A":0,"c":0.4,"b":0,"a":0},
{"g":"JIA","i":65,"M":0,"G":0,"A":0,"c":0.2,"b":0,"a":0},
{"g":"JIA","i":66,"M":0.5,"G":0,"A":0,"c":0,"b":0,"a":0},
{"g":"JIA","i":67,"M":0,"G":0,"A":0,"c":0,"b":0,"a":0},
{"g":"JIA","i":68,"M":0.5,"G":0,"A":0,"c":0,"b":0,"a":0},
{"g":"JIA","i":69,"M":0.6,"G":0,"A":0,"c":0.3,"b":0.2,"a":0},
{"g":"JIA","i":70,"M":1.0,"G":0.7,"A":0.2,"c":0,"b":0,"a":0},
{"g":"JIA","i":71,"M":0.2,"G":0,"A":0,"c":0.6,"b":0.7,"a":0.3},
{"g":"JIA","i":72,"M":1.0,"G":0.5,"A":0.2,"c":0.4,"b":0.3,"a":0},
{"g":"JIA","i":73,"M":0,"G":0,"A":0,"c":0,"b":0,"a":0},
{"g":"JIA","i":74,"M":0,"G":0,"A":0,"c":0.2,"b":0,"a":0},
{"g":"JIA","i":75,"M":0.4,"G":0,"A":0,"c":0,"b":0,"a":0},
{"g":"JIA","i":76,"M":0.2,"G":0.2,"A":0,"c":0.5,"b":0,"a":0},
{"g":"JIA","i":77,"M":0.1,"G":0,"A":0,"c":0.4,"b":0.7,"a":0},
{"g":"JIA","i":78,"M":0,"G":0,"A":0,"c":0,"b":0,"a":0},
{"g":"JIA","i":79,"M":0.3,"G":0.5,"A":0.2,"c":0.3,"b":0.2,"a":0},
{"g":"JIA","i":80,"M":0,"G":0,"A":0,"c":0,"b":0,"a":0},
{"g":"JIA","i":81,"M":0.9,"G":0.2,"A":0,"c":0,"b":0,"a":0},
{"g":"JIA","i":82,"M":1.0,"G":0.5,"A":0,"c":0.5,"b":0.4,"a":0},
{"g":"JIA","i":83,"M":0,"G":0,"A":0,"c":0.5,"b":0.4,"a":0},
{"g":"JIA","i":84,"M":2.1,"G":0.7,"A":0.3,"c":0,"b":0,"a":0},
{"g":"JIA","i":85,"M":1.0,"G":0.2,"A":0,"c":0.9,"b":0.3,"a":0},
{"g":"JIA","i":86,"M":0.6,"G":0,"A":0,"c":0.6,"b":0.3,"a":0},
{"g":"JIA","i":87,"M":0.6,"G":0,"A":0,"c":0,"b":0,"a":0},
{"g":"JIA","i":88,"M":0.6,"G":0,"A":0,"c":0.2,"b":0.2,"a":0},
{"g":"JIA","i":89,"M":0.6,"G":0,"A":0,"c":0.3,"b":0,"a":0},
{"g":"JIA","i":90,"M":0.7,"G":0.3,"A":0.3,"c":0.3,"b":0,"a":0},
{"g":"JIA","i":91,"M":0.9,"G":0.6,"A":0.4,"c":0.5,"b":0.3,"a":0},
{"g":"JIA","i":92,"M":0.7,"G":0.1,"A":0,"c":0,"b":0,"a":0},
{"g":"JIA","i":93,"M":0,"G":0,"A":0,"c":0,"b":0,"a":0},
{"g":"JIA","i":94,"M":0.4,"G":0.3,"A":0.2,"c":0.3,"b":0.4,"a":0},
{"g":"JIA","i":95,"M":0.3,"G":0,"A":0,"c":0.6,"b":0.4,"a":0.2},
{"g":"JIA","i":96,"M":0.6,"G":0.4,"A":0,"c":0.5,"b":0.4,"a":0.3},
{"g":"JIA","i":97,"M":0.5,"G":0.4,"A":0,"c":0.2,"b":0,"a":0},
{"g":"JIA","i":98,"M":0.3,"G":0,"A":0,"c":0,"b":0,"a":0},
{"g":"JIA","i":99,"M":0.6,"G":0.5,"A":0,"c":0.6,"b":0.3,"a":0},
{"g":"JIA","i":100,"M":0.8,"G":0.5,"A":0,"c":0.7,"b":0.4,"a":0},
{"g":"JIA","i":101,"M":0.6,"G":0.3,"A":0,"c":0.5,"b":0.4,"a":0},
{"g":"JIA","i":102,"M":0.9,"G":0.5,"A":0,"c":0.6,"b":0.3,"a":0},
{"g":"JIA","i":103,"M":0.5,"G":0.6,"A":0.2,"c":0,"b":0,"a":0},
{"g":"JIA","i":104,"M":0.7,"G":0.3,"A":0,"c":0.5,"b":0.5,"a":0},
{"g":"JIA","i":105,"M":0.4,"G":0.3,"A":0,"c":0,"b":0,"a":0},
{"g":"JIA","i":106,"M":0.5,"G":0,"A":0,"c":0,"b":0,"a":0},
{"g":"JIA","i":107,"M":0.5,"G":0,"A":0,"c":0.3,"b":0,"a":0},
{"g":"JIA","i":108,"M":2.0,"G":0.8,"A":0.7,"c":0.3,"b":0.2,"a":0},
{"g":"JIA","i":109,"M":0.8,"G":0.4,"A":0.2,"c":0.6,"b":0.5,"a":0.3},
{"g":"JIA","i":110,"M":0.6,"G":0.3,"A":0,"c":0.5,"b":0.3,"a":0},
{"g":"JIA","i":111,"M":0.4,"G":0.3,"A":0,"c":0,"b":0,"a":0},
{"g":"JIA","i":112,"M":0.5,"G":0.3,"A":0,"c":0.3,"b":0.3,"a":0},
{"g":"JIA","i":113,"M":0.6,"G":0.3,"A":0,"c":0,"b":0,"a":0},
{"g":"JIA","i":114,"M":0.8,"G":0.4,"A":0.2,"c":0.6,"b":0.3,"a":0},
{"g":"JIA","i":115,"M":0.5,"G":0.6,"A":0.2,"c":0.5,"b":0.4,"a":0},
{"g":"JIA","i":116,"M":0.8,"G":0.6,"A":0.8,"c":0.5,"b":0.4,"a":0},
{"g":"JIA","i":117,"M":1.2,"G":1.3,"A":0.3,"c":0.3,"b":0.2,"a":0},
{"g":"JIA","i":118,"M":0.8,"G":0.5,"A":0.2,"c":0,"b":0,"a":0},
{"g":"JDM","i":1,"M":0,"G":0,"A":0,"c":0,"b":0,"a":0},
{"g":"JDM","i":2,"M":0,"G":0,"A":0,"c":0,"b":0,"a":0},
{"g":"JDM","i":3,"M":0.1,"G":0,"A":0,"c":0.3,"b":0.2,"a":0},
{"g":"JDM","i":4,"M":0,"G":0,"A":0,"c":0,"b":0,"a":0},
{"g":"JDM","i":5,"M":0,"G":0,"A":0,"c":0,"b":0,"a":0},
{"g":"JDM","i":6,"M":0.2,"G":0,"A":0,"c":0.3,"b":0,"a":0},
{"g":"JDM","i":7,"M":0.1,"G":0,"A":0,"c":0,"b":0,"a":0},
{"g":"JDM","i":8,"M":0,"G":0,"A":0,"c":0,"b":0,"a":0},
{"g":"JDM","i":9,"M":0,"G":0,"A":0,"c":0.3,"b":0.1,"a":0},
{"g":"JDM","i":10,"M":0,"G":0,"A":0,"c":0,"b":0,"a":0},
{"g":"JDM","i":11,"M":0,"G":0,"A":0,"c":0,"b":0,"a":0},
{"g":"JDM","i":12,"M":0.6,"G":0.3,"A":0,"c":0,"b":0,"a":0},
{"g":"JDM","i":13,"M":0.2,"G":0,"A":0,"c":0,"b":0,"a":0},
{"g":"JDM","i":14,"M":1.2,"G":0,"A":0,"c":0.3,"b":0.3,"a":0},
{"g":"JDM","i":15,"M":0,"G":0,"A":0,"c":0,"b":0,"a":0},
{"g":"JDM","i":16,"M":0.2,"G":0,"A":0,"c":0,"b":0,"a":0},
{"g":"JDM","i":17,"M":0.7,"G":0,"A":0,"c":0.3,"b":0,"a":0},
{"g":"JDM","i":18,"M":0.6,"G":0,"A":0,"c":0.5,"b":0,"a":0},
{"g":"JDM","i":19,"M":0.5,"G":0.2,"A":0.2,"c":0.3,"b":0,"a":0},
{"g":"JDM","i":20,"M":0.2,"G":0,"A":0,"c":0,"b":0,"a":0},
{"g":"JDM","i":21,"M":0,"G":0,"A":0,"c":0,"b":0,"a":0},
{"g":"JDM","i":22,"M":0.3,"G":0.3,"A":0,"c":0.2,"b":0,"a":0},
{"g":"JDM","i":23,"M":0.3,"G":0,"A":0,"c":0,"b":0,"a":0},
{"g":"JDM","i":24,"M":0.1,"G":0,"A":0,"c":0,"b":0,"a":0},
{"g":"JDM","i":25,"M":0.3,"G":0.3,"A":0.1,"c":0,"b":0,"a":0},
{"g":"JDM","i":26,"M":1.3,"G":0.2,"A":0,"c":0.3,"b":0.3,"a":0},
{"g":"JDM","i":27,"M":0,"G":0,"A":0,"c":0,"b":0,"a":0},
{"g":"JDM","i":28,"M":0.8,"G":0,"A":0,"c":0,"b":0,"a":0},
{"g":"JDM","i":29,"M":0.5,"G":0.3,"A":0,"c":0.2,"b":0,"a":0},
{"g":"JDM","i":30,"M":0.3,"G":0,"A":0,"c":0,"b":0,"a":0},
{"g":"JDM","i":31,"M":0,"G":0,"A":0,"c":0,"b":0,"a":0},
{"g":"JDM","i":32,"M":0.2,"G":0,"A":0,"c":0,"b":0,"a":0},
{"g":"JDM","i":33,"M":0.3,"G":0.3,"A":0,"c":0.3,"b":0.5,"a":0.3},
{"g":"JDM","i":34,"M":0,"G":0,"A":0,"c":0,"b":0,"a":0},
{"g":"JDM","i":35,"M":0.3,"G":0,"A":0,"c":0,"b":0,"a":0},
{"g":"JDM","i":36,"M":0.4,"G":0.4,"A":0.3,"c":0.3,"b":0,"a":0},
{"g":"JDM","i":37,"M":0.5,"G":0.7,"A":0.3,"c":0.3,"b":0.3,"a":0.3},
{"g":"JDM","i":38,"M":0.4,"G":0.4,"A":0,"c":0.3,"b":0,"a":0},
{"g":"JDM","i":39,"M":0.6,"G":0.4,"A":0.2,"c":0.4,"b":0.4,"a":0},
{"g":"JDM","i":40,"M":0.9,"G":0.6,"A":0,"c":0.3,"b":0.4,"a":0},
{"g":"JDM","i":41,"M":0.8,"G":0.4,"A":0.2,"c":0.2,"b":0,"a":0},
{"g":"JDM","i":42,"M":0.7,"G":0.5,"A":0.3,"c":0,"b":0,"a":0},
{"g":"JDM","i":43,"M":0.5,"G":0.3,"A":0.2,"c":0.4,"b":0.5,"a":0.2},
{"g":"JDM","i":44,"M":0.4,"G":0.5,"A":0,"c":0.2,"b":0,"a":0},
{"g":"JDM","i":45,"M":0.5,"G":0.6,"A":0.3,"c":0.5,"b":0.6,"a":0.2},
{"g":"JDM","i":46,"M":0.3,"G":0,"A":0,"c":0.3,"b":0,"a":0},
{"g":"JDM","i":47,"M":1.5,"G":0,"A":0,"c":0.4,"b":0,"a":0},
{"g":"JDM","i":48,"M":0.6,"G":1.8,"A":0.2,"c":0,"b":0,"a":0},
{"g":"JSLE","i":1,"M":0.9,"G":0.2,"A":0,"c":0.2,"b":0.3,"a":0},
{"g":"JSLE","i":2,"M":0.1,"G":0,"A":0,"c":0,"b":0,"a":0},
{"g":"JSLE","i":3,"M":0.3,"G":0.2,"A":0,"c":0.2,"b":0,"a":0},
{"g":"JSLE","i":4,"M":0.5,"G":0.2,"A":0,"c":2.4,"b":0,"a":0},
{"g":"JSLE","i":5,"M":0.1,"G":0,"A":0,"c":0,"b":0,"a":0},
{"g":"JSLE","i":6,"M":0.4,"G":0.5,"A":0.1,"c":0.7,"b":0.6,"a":0.3},
{"g":"JSLE","i":7,"M":1.2,"G":1.5,"A":0.2,"c":0.3,"b":0,"a":0},
{"g":"JSLE","i":8,"M":0.2,"G":0,"A":0,"c":0,"b":0,"a":0},
{"g":"JSLE","i":9,"M":0.5,"G":0,"A":0,"c":0.1,"b":0,"a":0},
{"g":"JSLE","i":10,"M":0.1,"G":0,"A":0,"c":0,"b":0,"a":0},
{"g":"JSLE","i":11,"M":0.7,"G":0.3,"A":0,"c":0.2,"b":0,"a":0},
{"g":"JSLE","i":12,"M":1.0,"G":0.6,"A":0,"c":0.4,"b":0.2,"a":0},
{"g":"JSLE","i":13,"M":2.4,"G":1.5,"A":0.3,"c":0.2,"b":0,"a":0},
{"g":"JSLE","i":14,"M":0.4,"G":0,"A":0,"c":0.5,"b":0,"a":0},
{"g":"JSLE","i":15,"M":0.6,"G":0.6,"A":0,"c":0.9,"b":0.2,"a":0},
{"g":"JSLE","i":16,"M":0.6,"G":0,"A":0,"c":1.0,"b":2.4,"a":0},
{"g":"JSLE","i":17,"M":2.1,"G":6.6,"A":0.3,"c":0,"b":0,"a":0},
{"g":"JSLE","i":18,"M":0.2,"G":0,"A":0,"c":0.3,"b":0,"a":0},
{"g":"JSLE","i":19,"M":0.1,"G":0,"A":0,"c":0,"b":0,"a":0},
{"g":"JSLE","i":20,"M":1.4,"G":0.2,"A":0.2,"c":0.8,"b":0.5,"a":0},
{"g":"JSLE","i":21,"M":1.5,"G":0.7,"A":0.2,"c":1.5,"b":0.8,"a":0},
{"g":"JSLE","i":22,"M":1.9,"G":0.7,"A":0.3,"c":0.5,"b":0,"a":0},
{"g":"JSLE","i":23,"M":1.9,"G":0.9,"A":0.7,"c":0.7,"b":0.4,"a":0},
{"g":"JSLE","i":24,"M":1.2,"G":1.5,"A":0.3,"c":1.0,"b":0.3,"a":0},
{"g":"JSLE","i":25,"M":1.2,"G":1.0,"A":0.4,"c":0.4,"b":0,"a":0},
{"g":"JSLE","i":26,"M":1.5,"G":0.6,"A":0.5,"c":0.4,"b":0.4,"a":0},
{"g":"JSLE","i":27,"M":2.6,"G":6.5,"A":0.8,"c":0.1,"b":0,"a":0},
{"g":"JSLE","i":28,"M":0.5,"G":0.4,"A":0,"c":0.3,"b":0,"a":0},
{"g":"JSLE","i":29,"M":0.1,"G":0,"A":0,"c":0,"b":0,"a":0},
{"g":"JSLE","i":30,"M":0.2,"G":0,"A":0,"c":0,"b":0,"a":0},
{"g":"MISC","i":1,"M":0.2,"G":0.1,"A":0,"c":1.0,"b":1.0,"a":0.4},
{"g":"MISC","i":2,"M":0.4,"G":0.3,"A":0.2,"c":1.9,"b":0.9,"a":0.6},
{"g":"MISC","i":3,"M":0.5,"G":0.5,"A":0.2,"c":1.8,"b":0.9,"a":0.5},
{"g":"MISC","i":4,"M":0.8,"G":0.6,"A":0.3,"c":2.0,"b":1.2,"a":0.6},
{"g":"MISC","i":5,"M":0.9,"G":0.9,"A":0.3,"c":3.9,"b":2.6,"a":0.9},
{"g":"MISC","i":6,"M":1.4,"G":0.9,"A":0.2,"c":4.4,"b":5.3,"a":2.4},
{"g":"MISC","i":7,"M":1.5,"G":0.8,"A":0.4,"c":3.6,"b":1.4,"a":2.8},
{"g":"MISC","i":8,"M":0.2,"G":0.1,"A":0,"c":0.4,"b":0.5,"a":0},
{"g":"MISC","i":9,"M":1.2,"G":0.8,"A":0.3,"c":0.9,"b":0.5,"a":1.0},
{"g":"MISC","i":10,"M":0.1,"G":1.8,"A":0,"c":0.8,"b":4.8,"a":0.4},
{"g":"MISC","i":11,"M":0.4,"G":1.2,"A":0.1,"c":2.7,"b":1.3,"a":1.0},
{"g":"MISC","i":12,"M":0.7,"G":1.2,"A":0,"c":2.2,"b":3.6,"a":0.3},
{"g":"MISC","i":13,"M":1.1,"G":0.8,"A":0.4,"c":2.7,"b":2.6,"a":0.3},
{"g":"MISC","i":14,"M":0.3,"G":2.4,"A":0,"c":0.8,"b":5.2,"a":0.2}
]
},
"resolve": {"legend": {"color": "independent"}},
"spacing": 20,
"vconcat": [
{
 "title": {"text": "A", "anchor": "start", "frame": "bounds", "fontSize": 21, "offset": -14},
 "resolve": {"legend": {"color": "independent"}},
 "spacing": 2.5,
 "hconcat": [
  {
   "resolve": {"legend": {"color": "independent"}},
   "spacing": 8.5,
   "hconcat": [
    {
     "bounds": "flush", "spacing": 4,
     "resolve": {"legend": {"color": "independent"}},
     "vconcat": [
      {"width": 221, "height": 177, "data": {"name": "pA"},
       "title": {"text": "Control n=54", "offset": 4},
       "transform": [{"filter": "datum.g === 'C'"}, {"fold": ["A", "G", "M"], "as": ["k", "v"]}],
       "resolve": {"axis": {"y": "independent"}},
       "layer": [
        {"mark": {"type": "bar", "stroke": "white", "strokeWidth": 0.5, "clip": true},
         "encoding": {
          "x": {"field": "i", "type": "ordinal", "axis": null, "scale": {"paddingInner": 0.12, "paddingOuter": 1, "align": 0.6}},
          "y": {"field": "v", "type": "quantitative", "stack": "zero", "scale": {"domain": [0, 30], "nice": false},
                "axis": {"orient": "left", "values": [0, 5, 10, 15, 20, 25, 30], "title": "specific MFI increase", "titleAnchor": "start", "titlePadding": 14}},
          "color": {"field": "k", "type": "nominal",
                    "legend": {"values": ["A", "G", "M"], "labelExpr": "'Ig' + datum.label", "title": null, "orient": "none", "legendX": 22, "legendY": -12, "symbolType": "square", "symbolSize": 110, "symbolStrokeWidth": 0, "labelFontSize": 14, "labelOffset": 4, "rowPadding": 1, "padding": 0}},
          "order": {"field": "k", "sort": "descending"}}},
        {"data": {"values": [{}]}, "mark": {"type": "rule", "color": "black", "strokeWidth": 1.6},
         "encoding": {"y": {"datum": 0, "axis": {"orient": "left", "offset": 58, "title": "HCoV-OC43", "labels": false, "ticks": false, "domain": false, "titlePadding": 3}}}}
       ]},
      {"width": 221, "height": 178, "data": {"name": "pA"},
       "transform": [{"filter": "datum.g === 'C'"}, {"fold": ["a", "b", "c"], "as": ["k", "v"]}],
       "resolve": {"axis": {"y": "independent"}},
       "layer": [
        {"mark": {"type": "bar", "stroke": "white", "strokeWidth": 0.5, "clip": true},
         "encoding": {
          "x": {"field": "i", "type": "ordinal", "axis": null, "scale": {"paddingInner": 0.12, "paddingOuter": 1, "align": 0.6}},
          "y": {"field": "v", "type": "quantitative", "stack": "zero", "scale": {"domain": [0, 30], "nice": false, "reverse": true},
                "axis": {"orient": "left", "values": [0, 5, 10, 15, 20, 25, 30], "labelExpr": "datum.value == 0 ? '' : datum.label", "title": "Spike-binding Ig,", "titleAnchor": "start", "titleAlign": "right", "titlePadding": 14}},
          "color": {"field": "k", "type": "nominal", "legend": null},
          "order": {"field": "k", "sort": "descending"}}},
        {"data": {"values": [{}]}, "mark": {"type": "rule", "color": "black", "strokeWidth": 1.6},
         "encoding": {"y": {"datum": 0, "axis": {"orient": "left", "offset": 58, "title": "SARS-CoV-2", "labels": false, "ticks": false, "domain": false, "titlePadding": 3}}}}
       ]}
     ]
    },
    {
     "bounds": "flush", "spacing": 4,
     "resolve": {"legend": {"color": "independent"}},
     "vconcat": [
      {"width": 476, "height": 177, "data": {"name": "pA"},
       "title": {"text": "JIA n=118", "offset": 6.5},
       "transform": [{"filter": "datum.g === 'JIA'"}, {"fold": ["A", "G", "M"], "as": ["k", "v"]}],
       "layer": [
        {"mark": {"type": "bar", "stroke": "white", "strokeWidth": 0.5, "clip": true},
         "encoding": {
          "x": {"field": "i", "type": "ordinal", "axis": null, "scale": {"paddingInner": 0.12, "paddingOuter": 1, "align": 0.5}},
          "y": {"field": "v", "type": "quantitative", "stack": "zero", "scale": {"domain": [0, 30], "nice": false}, "axis": {"values": [0, 5, 10, 15, 20, 25, 30], "labels": false, "title": null}},
          "color": {"field": "k", "type": "nominal", "legend": null},
          "order": {"field": "k", "sort": "descending"}}},
        {"data": {"values": [{}]}, "mark": {"type": "rule", "color": "black", "strokeWidth": 1.6}, "encoding": {"y": {"datum": 0, "axis": {"values": [0, 5, 10, 15, 20, 25, 30], "labels": false, "title": null}}}},
        {"data": {"values": [{"i": 118, "y": 30, "t": "(>30)"}]}, "mark": {"type": "text", "fontSize": 8, "baseline": "bottom", "align": "right", "dx": 5, "dy": -1},
         "encoding": {"x": {"field": "i", "type": "ordinal"}, "y": {"field": "y", "type": "quantitative", "axis": {"values": [0, 5, 10, 15, 20, 25, 30], "labels": false, "title": null}}, "text": {"field": "t"}}}
       ]},
      {"width": 476, "height": 178, "data": {"name": "pA"},
       "transform": [{"filter": "datum.g === 'JIA'"}, {"fold": ["a", "b", "c"], "as": ["k", "v"]}],
       "layer": [
        {"mark": {"type": "bar", "stroke": "white", "strokeWidth": 0.5, "clip": true},
         "encoding": {
          "x": {"field": "i", "type": "ordinal", "axis": null, "scale": {"paddingInner": 0.12, "paddingOuter": 1, "align": 0.5}},
          "y": {"field": "v", "type": "quantitative", "stack": "zero", "scale": {"domain": [0, 30], "nice": false, "reverse": true}, "axis": {"values": [0, 5, 10, 15, 20, 25, 30], "labels": false, "title": null}},
          "color": {"field": "k", "type": "nominal", "legend": null},
          "order": {"field": "k", "sort": "descending"}}},
        {"data": {"values": [{}]}, "mark": {"type": "rule", "color": "black", "strokeWidth": 1.6}, "encoding": {"y": {"datum": 0, "axis": {"values": [0, 5, 10, 15, 20, 25, 30], "labels": false, "title": null}}}}
       ]}
     ]
    },
    {
     "bounds": "flush", "spacing": 4,
     "resolve": {"legend": {"color": "independent"}},
     "vconcat": [
      {"width": 197.5, "height": 177, "data": {"name": "pA"},
       "title": {"text": "JDM n=48", "offset": 15.5},
       "transform": [{"filter": "datum.g === 'JDM'"}, {"fold": ["A", "G", "M"], "as": ["k", "v"]}],
       "layer": [
        {"mark": {"type": "bar", "stroke": "white", "strokeWidth": 0.5, "clip": true},
         "encoding": {
          "x": {"field": "i", "type": "ordinal", "axis": null, "scale": {"paddingInner": 0.12, "paddingOuter": 1, "align": 0.6}},
          "y": {"field": "v", "type": "quantitative", "stack": "zero", "scale": {"domain": [0, 30], "nice": false}, "axis": {"values": [0, 5, 10, 15, 20, 25, 30], "labels": false, "title": null}},
          "color": {"field": "k", "type": "nominal", "legend": null},
          "order": {"field": "k", "sort": "descending"}}},
        {"data": {"values": [{}]}, "mark": {"type": "rule", "color": "black", "strokeWidth": 1.6}, "encoding": {"y": {"datum": 0, "axis": {"values": [0, 5, 10, 15, 20, 25, 30], "labels": false, "title": null}}}}
       ]},
      {"width": 197.5, "height": 178, "data": {"name": "pA"},
       "transform": [{"filter": "datum.g === 'JDM'"}, {"fold": ["a", "b", "c"], "as": ["k", "v"]}],
       "layer": [
        {"mark": {"type": "bar", "stroke": "white", "strokeWidth": 0.5, "clip": true},
         "encoding": {
          "x": {"field": "i", "type": "ordinal", "axis": null, "scale": {"paddingInner": 0.12, "paddingOuter": 1, "align": 0.6}},
          "y": {"field": "v", "type": "quantitative", "stack": "zero", "scale": {"domain": [0, 30], "nice": false, "reverse": true}, "axis": {"values": [0, 5, 10, 15, 20, 25, 30], "labels": false, "title": null}},
          "color": {"field": "k", "type": "nominal", "legend": null},
          "order": {"field": "k", "sort": "descending"}}},
        {"data": {"values": [{}]}, "mark": {"type": "rule", "color": "black", "strokeWidth": 1.6}, "encoding": {"y": {"datum": 0, "axis": {"values": [0, 5, 10, 15, 20, 25, 30], "labels": false, "title": null}}}}
       ]}
     ]
    },
    {
     "bounds": "flush", "spacing": 4,
     "resolve": {"legend": {"color": "independent"}},
     "vconcat": [
      {"width": 119, "height": 177, "data": {"name": "pA"},
       "title": {"text": "JSLE n=30", "offset": 6.5},
       "transform": [{"filter": "datum.g === 'JSLE'"}, {"fold": ["A", "G", "M"], "as": ["k", "v"]}],
       "layer": [
        {"mark": {"type": "bar", "stroke": "white", "strokeWidth": 0.5, "clip": true},
         "encoding": {
          "x": {"field": "i", "type": "ordinal", "axis": null, "scale": {"paddingInner": 0.12, "paddingOuter": 1, "align": 0.7}},
          "y": {"field": "v", "type": "quantitative", "stack": "zero", "scale": {"domain": [0, 30], "nice": false}, "axis": {"values": [0, 5, 10, 15, 20, 25, 30], "labels": false, "title": null}},
          "color": {"field": "k", "type": "nominal", "legend": null},
          "order": {"field": "k", "sort": "descending"}}},
        {"data": {"values": [{}]}, "mark": {"type": "rule", "color": "black", "strokeWidth": 1.6}, "encoding": {"y": {"datum": 0, "axis": {"values": [0, 5, 10, 15, 20, 25, 30], "labels": false, "title": null}}}},
        {"data": {"values": [{"i": 30, "y": 30, "t": "(>30)"}]}, "mark": {"type": "text", "fontSize": 8, "baseline": "bottom", "align": "right", "dx": 5, "dy": -1},
         "encoding": {"x": {"field": "i", "type": "ordinal"}, "y": {"field": "y", "type": "quantitative", "axis": {"values": [0, 5, 10, 15, 20, 25, 30], "labels": false, "title": null}}, "text": {"field": "t"}}}
       ]},
      {"width": 119, "height": 178, "data": {"name": "pA"},
       "transform": [{"filter": "datum.g === 'JSLE'"}, {"fold": ["a", "b", "c"], "as": ["k", "v"]}],
       "layer": [
        {"mark": {"type": "bar", "stroke": "white", "strokeWidth": 0.5, "clip": true},
         "encoding": {
          "x": {"field": "i", "type": "ordinal", "axis": null, "scale": {"paddingInner": 0.12, "paddingOuter": 1, "align": 0.7}},
          "y": {"field": "v", "type": "quantitative", "stack": "zero", "scale": {"domain": [0, 30], "nice": false, "reverse": true}, "axis": {"values": [0, 5, 10, 15, 20, 25, 30], "labels": false, "title": null}},
          "color": {"field": "k", "type": "nominal", "legend": null},
          "order": {"field": "k", "sort": "descending"}}},
        {"data": {"values": [{}]}, "mark": {"type": "rule", "color": "black", "strokeWidth": 1.6}, "encoding": {"y": {"datum": 0, "axis": {"values": [0, 5, 10, 15, 20, 25, 30], "labels": false, "title": null}}}}
       ]}
     ]
    }
   ]
  },
  {
   "bounds": "flush", "spacing": 4,
   "resolve": {"legend": {"color": "independent"}},
   "vconcat": [
    {"width": 56, "height": 177, "data": {"name": "pA"},
     "title": {"text": "MIS-C n=14", "offset": 15.5},
     "transform": [{"filter": "datum.g === 'MISC'"}, {"fold": ["A", "G", "M"], "as": ["k", "v"]}],
     "layer": [
      {"mark": {"type": "bar", "stroke": "white", "strokeWidth": 0.5, "clip": true},
       "encoding": {
        "x": {"field": "i", "type": "ordinal", "axis": null, "scale": {"paddingInner": 0.12, "paddingOuter": 0.8, "align": 0.6}},
        "y": {"field": "v", "type": "quantitative", "stack": "zero", "scale": {"domain": [0, 30], "nice": false}, "axis": {"values": [0, 5, 10, 15, 20, 25, 30], "labels": false, "title": null}},
        "color": {"field": "k", "type": "nominal", "legend": null},
        "order": {"field": "k", "sort": "descending"}}},
      {"data": {"values": [{}]}, "mark": {"type": "rule", "color": "black", "strokeWidth": 1.6}, "encoding": {"y": {"datum": 0, "axis": {"values": [0, 5, 10, 15, 20, 25, 30], "labels": false, "title": null}}}}
     ]},
    {"width": 56, "height": 178, "data": {"name": "pA"},
     "transform": [{"filter": "datum.g === 'MISC'"}, {"fold": ["a", "b", "c"], "as": ["k", "v"]}],
     "layer": [
      {"mark": {"type": "bar", "stroke": "white", "strokeWidth": 0.5, "clip": true},
       "encoding": {
        "x": {"field": "i", "type": "ordinal", "axis": null, "scale": {"paddingInner": 0.12, "paddingOuter": 0.8, "align": 0.6}},
        "y": {"field": "v", "type": "quantitative", "stack": "zero", "scale": {"domain": [0, 60], "nice": false, "reverse": true}, "axis": {"values": [0, 10, 20, 30, 40, 50, 60], "title": null}},
        "color": {"field": "k", "type": "nominal", "legend": null},
        "order": {"field": "k", "sort": "descending"}}},
      {"data": {"values": [{}]}, "mark": {"type": "rule", "color": "black", "strokeWidth": 1.6}, "encoding": {"y": {"datum": 0, "axis": {"values": [0, 10, 20, 30, 40, 50, 60], "title": null}}}}
     ]}
   ]
  }
 ]
},
{
 "title": {"text": "B", "anchor": "start", "frame": "bounds", "fontSize": 21, "offset": -14},
 "resolve": {"legend": {"color": "independent"}},
 "spacing": 16.5,
 "hconcat": [
  {
   "resolve": {"legend": {"color": "independent"}},
   "spacing": 8.5,
   "hconcat": [
    {
     "bounds": "flush", "spacing": 4,
     "resolve": {"legend": {"color": "independent"}},
     "vconcat": [
      {"width": 221, "height": 177, "data": {"name": "pB"},
       "title": {"text": "Control n=54", "offset": 4},
       "transform": [{"filter": "datum.g === 'C'"}, {"fold": ["A", "G", "M"], "as": ["k", "v"]}],
       "resolve": {"axis": {"y": "independent"}},
       "layer": [
        {"mark": {"type": "bar", "stroke": "white", "strokeWidth": 0.5, "clip": true},
         "encoding": {
          "x": {"field": "i", "type": "ordinal", "axis": null, "scale": {"paddingInner": 0.12, "paddingOuter": 1, "align": 0.6}},
          "y": {"field": "v", "type": "quantitative", "stack": "zero", "scale": {"domain": [0, 30], "nice": false},
                "axis": {"orient": "left", "values": [0, 5, 10, 15, 20, 25, 30], "title": "specific MFI increase", "titleAnchor": "start", "titlePadding": 14}},
          "color": {"field": "k", "type": "nominal",
                    "legend": {"values": ["A", "G", "M"], "labelExpr": "'Ig' + datum.label", "title": null, "orient": "none", "legendX": 22, "legendY": -12, "symbolType": "square", "symbolSize": 110, "symbolStrokeWidth": 0, "labelFontSize": 14, "labelOffset": 4, "rowPadding": 1, "padding": 0}},
          "order": {"field": "k", "sort": "descending"}}},
        {"data": {"values": [{}]}, "mark": {"type": "rule", "color": "black", "strokeWidth": 1.6},
         "encoding": {"y": {"datum": 0, "axis": {"orient": "left", "offset": 58, "title": "ERV3-1", "labels": false, "ticks": false, "domain": false, "titlePadding": 3}}}}
       ]},
      {"width": 221, "height": 178, "data": {"name": "pB"},
       "transform": [{"filter": "datum.g === 'C'"}, {"fold": ["a", "b", "c"], "as": ["k", "v"]}],
       "resolve": {"axis": {"y": "independent"}},
       "layer": [
        {"mark": {"type": "bar", "stroke": "white", "strokeWidth": 0.5, "clip": true},
         "encoding": {
          "x": {"field": "i", "type": "ordinal", "axis": null, "scale": {"paddingInner": 0.12, "paddingOuter": 1, "align": 0.6}},
          "y": {"field": "v", "type": "quantitative", "stack": "zero", "scale": {"domain": [0, 30], "nice": false, "reverse": true},
                "axis": {"orient": "left", "values": [0, 5, 10, 15, 20, 25, 30], "labelExpr": "datum.value == 0 ? '' : datum.label", "title": "Envelope-binding  Ig,", "titleAnchor": "start", "titleAlign": "right", "titlePadding": 14}},
          "color": {"field": "k", "type": "nominal", "legend": null},
          "order": {"field": "k", "sort": "descending"}}},
        {"data": {"values": [{}]}, "mark": {"type": "rule", "color": "black", "strokeWidth": 1.6},
         "encoding": {"y": {"datum": 0, "axis": {"orient": "left", "offset": 58, "title": "HERV-K113", "labels": false, "ticks": false, "domain": false, "titlePadding": 3}}}}
       ]}
     ]
    },
    {
     "bounds": "flush", "spacing": 4,
     "resolve": {"legend": {"color": "independent"}},
     "vconcat": [
      {"width": 476, "height": 177, "data": {"name": "pB"},
       "title": {"text": "JIA n=118", "offset": 6.5},
       "transform": [{"filter": "datum.g === 'JIA'"}, {"fold": ["A", "G", "M"], "as": ["k", "v"]}],
       "layer": [
        {"mark": {"type": "bar", "stroke": "white", "strokeWidth": 0.5, "clip": true},
         "encoding": {
          "x": {"field": "i", "type": "ordinal", "axis": null, "scale": {"paddingInner": 0.12, "paddingOuter": 1, "align": 0.5}},
          "y": {"field": "v", "type": "quantitative", "stack": "zero", "scale": {"domain": [0, 30], "nice": false}, "axis": {"values": [0, 5, 10, 15, 20, 25, 30], "labels": false, "title": null}},
          "color": {"field": "k", "type": "nominal", "legend": null},
          "order": {"field": "k", "sort": "descending"}}},
        {"data": {"values": [{}]}, "mark": {"type": "rule", "color": "black", "strokeWidth": 1.6}, "encoding": {"y": {"datum": 0, "axis": {"values": [0, 5, 10, 15, 20, 25, 30], "labels": false, "title": null}}}},
        {"data": {"values": [{"i": 118, "y": 30, "t": "(>30)"}]}, "mark": {"type": "text", "fontSize": 8, "baseline": "bottom", "align": "right", "dx": 5, "dy": -1},
         "encoding": {"x": {"field": "i", "type": "ordinal"}, "y": {"field": "y", "type": "quantitative", "axis": {"values": [0, 5, 10, 15, 20, 25, 30], "labels": false, "title": null}}, "text": {"field": "t"}}}
       ]},
      {"width": 476, "height": 178, "data": {"name": "pB"},
       "transform": [{"filter": "datum.g === 'JIA'"}, {"fold": ["a", "b", "c"], "as": ["k", "v"]}],
       "layer": [
        {"mark": {"type": "bar", "stroke": "white", "strokeWidth": 0.5, "clip": true},
         "encoding": {
          "x": {"field": "i", "type": "ordinal", "axis": null, "scale": {"paddingInner": 0.12, "paddingOuter": 1, "align": 0.5}},
          "y": {"field": "v", "type": "quantitative", "stack": "zero", "scale": {"domain": [0, 30], "nice": false, "reverse": true}, "axis": {"values": [0, 5, 10, 15, 20, 25, 30], "labels": false, "title": null}},
          "color": {"field": "k", "type": "nominal", "legend": null},
          "order": {"field": "k", "sort": "descending"}}},
        {"data": {"values": [{}]}, "mark": {"type": "rule", "color": "black", "strokeWidth": 1.6}, "encoding": {"y": {"datum": 0, "axis": {"values": [0, 5, 10, 15, 20, 25, 30], "labels": false, "title": null}}}}
       ]}
     ]
    },
    {
     "bounds": "flush", "spacing": 4,
     "resolve": {"legend": {"color": "independent"}},
     "vconcat": [
      {"width": 197.5, "height": 177, "data": {"name": "pB"},
       "title": {"text": "JDM n=48", "offset": 15.5},
       "transform": [{"filter": "datum.g === 'JDM'"}, {"fold": ["A", "G", "M"], "as": ["k", "v"]}],
       "layer": [
        {"mark": {"type": "bar", "stroke": "white", "strokeWidth": 0.5, "clip": true},
         "encoding": {
          "x": {"field": "i", "type": "ordinal", "axis": null, "scale": {"paddingInner": 0.12, "paddingOuter": 1, "align": 0.6}},
          "y": {"field": "v", "type": "quantitative", "stack": "zero", "scale": {"domain": [0, 30], "nice": false}, "axis": {"values": [0, 5, 10, 15, 20, 25, 30], "labels": false, "title": null}},
          "color": {"field": "k", "type": "nominal", "legend": null},
          "order": {"field": "k", "sort": "descending"}}},
        {"data": {"values": [{}]}, "mark": {"type": "rule", "color": "black", "strokeWidth": 1.6}, "encoding": {"y": {"datum": 0, "axis": {"values": [0, 5, 10, 15, 20, 25, 30], "labels": false, "title": null}}}}
       ]},
      {"width": 197.5, "height": 178, "data": {"name": "pB"},
       "transform": [{"filter": "datum.g === 'JDM'"}, {"fold": ["a", "b", "c"], "as": ["k", "v"]}],
       "layer": [
        {"mark": {"type": "bar", "stroke": "white", "strokeWidth": 0.5, "clip": true},
         "encoding": {
          "x": {"field": "i", "type": "ordinal", "axis": null, "scale": {"paddingInner": 0.12, "paddingOuter": 1, "align": 0.6}},
          "y": {"field": "v", "type": "quantitative", "stack": "zero", "scale": {"domain": [0, 30], "nice": false, "reverse": true}, "axis": {"values": [0, 5, 10, 15, 20, 25, 30], "labels": false, "title": null}},
          "color": {"field": "k", "type": "nominal", "legend": null},
          "order": {"field": "k", "sort": "descending"}}},
        {"data": {"values": [{}]}, "mark": {"type": "rule", "color": "black", "strokeWidth": 1.6}, "encoding": {"y": {"datum": 0, "axis": {"values": [0, 5, 10, 15, 20, 25, 30], "labels": false, "title": null}}}}
       ]}
     ]
    },
    {
     "bounds": "flush", "spacing": 4,
     "resolve": {"legend": {"color": "independent"}},
     "vconcat": [
      {"width": 119, "height": 177, "data": {"name": "pB"},
       "title": {"text": "JSLE n=30", "offset": 15.5},
       "transform": [{"filter": "datum.g === 'JSLE'"}, {"fold": ["A", "G", "M"], "as": ["k", "v"]}],
       "layer": [
        {"mark": {"type": "bar", "stroke": "white", "strokeWidth": 0.5, "clip": true},
         "encoding": {
          "x": {"field": "i", "type": "ordinal", "axis": null, "scale": {"paddingInner": 0.12, "paddingOuter": 1, "align": 0.7}},
          "y": {"field": "v", "type": "quantitative", "stack": "zero", "scale": {"domain": [0, 30], "nice": false}, "axis": {"values": [0, 5, 10, 15, 20, 25, 30], "labels": false, "title": null}},
          "color": {"field": "k", "type": "nominal", "legend": null},
          "order": {"field": "k", "sort": "descending"}}},
        {"data": {"values": [{}]}, "mark": {"type": "rule", "color": "black", "strokeWidth": 1.6}, "encoding": {"y": {"datum": 0, "axis": {"values": [0, 5, 10, 15, 20, 25, 30], "labels": false, "title": null}}}}
       ]},
      {"width": 119, "height": 178, "data": {"name": "pB"},
       "transform": [{"filter": "datum.g === 'JSLE'"}, {"fold": ["a", "b", "c"], "as": ["k", "v"]}],
       "layer": [
        {"mark": {"type": "bar", "stroke": "white", "strokeWidth": 0.5, "clip": true},
         "encoding": {
          "x": {"field": "i", "type": "ordinal", "axis": null, "scale": {"paddingInner": 0.12, "paddingOuter": 1, "align": 0.7}},
          "y": {"field": "v", "type": "quantitative", "stack": "zero", "scale": {"domain": [0, 30], "nice": false, "reverse": true}, "axis": {"values": [0, 5, 10, 15, 20, 25, 30], "labels": false, "title": null}},
          "color": {"field": "k", "type": "nominal", "legend": null},
          "order": {"field": "k", "sort": "descending"}}},
        {"data": {"values": [{}]}, "mark": {"type": "rule", "color": "black", "strokeWidth": 1.6}, "encoding": {"y": {"datum": 0, "axis": {"values": [0, 5, 10, 15, 20, 25, 30], "labels": false, "title": null}}}}
       ]}
     ]
    }
   ]
  },
  {
   "bounds": "flush", "spacing": 4,
   "resolve": {"legend": {"color": "independent"}},
   "vconcat": [
    {"width": 56, "height": 177, "data": {"name": "pB"},
     "title": {"text": "MIS-C n=14", "offset": 15.5},
     "transform": [{"filter": "datum.g === 'MISC'"}, {"fold": ["A", "G", "M"], "as": ["k", "v"]}],
     "layer": [
      {"mark": {"type": "bar", "stroke": "white", "strokeWidth": 0.5, "clip": true},
       "encoding": {
        "x": {"field": "i", "type": "ordinal", "axis": null, "scale": {"paddingInner": 0.12, "paddingOuter": 0.8, "align": 0.6}},
        "y": {"field": "v", "type": "quantitative", "stack": "zero", "scale": {"domain": [0, 30], "nice": false}, "axis": {"values": [0, 5, 10, 15, 20, 25, 30], "labels": false, "title": null}},
        "color": {"field": "k", "type": "nominal", "legend": null},
        "order": {"field": "k", "sort": "descending"}}},
      {"data": {"values": [{}]}, "mark": {"type": "rule", "color": "black", "strokeWidth": 1.6}, "encoding": {"y": {"datum": 0, "axis": {"values": [0, 5, 10, 15, 20, 25, 30], "labels": false, "title": null}}}}
     ]},
    {"width": 56, "height": 178, "data": {"name": "pB"},
     "transform": [{"filter": "datum.g === 'MISC'"}, {"fold": ["a", "b", "c"], "as": ["k", "v"]}],
     "layer": [
      {"mark": {"type": "bar", "stroke": "white", "strokeWidth": 0.5, "clip": true},
       "encoding": {
        "x": {"field": "i", "type": "ordinal", "axis": null, "scale": {"paddingInner": 0.12, "paddingOuter": 0.8, "align": 0.6}},
        "y": {"field": "v", "type": "quantitative", "stack": "zero", "scale": {"domain": [0, 30], "nice": false, "reverse": true}, "axis": {"values": [0, 5, 10, 15, 20, 25, 30], "labels": false, "title": null}},
        "color": {"field": "k", "type": "nominal", "legend": null},
        "order": {"field": "k", "sort": "descending"}}},
      {"data": {"values": [{}]}, "mark": {"type": "rule", "color": "black", "strokeWidth": 1.6}, "encoding": {"y": {"datum": 0, "axis": {"values": [0, 5, 10, 15, 20, 25, 30], "labels": false, "title": null}}}}
     ]}
   ]
  }
 ]
}
]
}
